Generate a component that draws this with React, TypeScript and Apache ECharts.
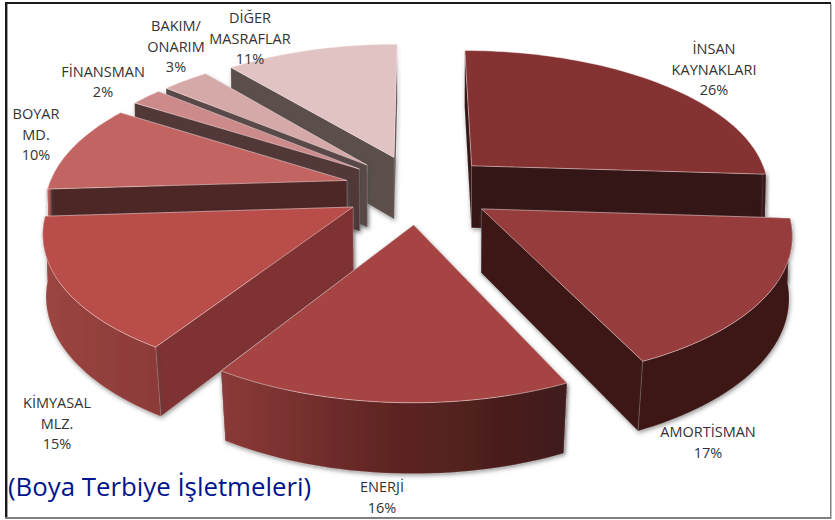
import React, { useEffect, useRef } from "react";
import * as echarts from "echarts";

const labelLines = [
  ["İNSAN", "KAYNAKLARI"],
  ["AMORTİSMAN"],
  ["ENERJİ"],
  ["KİMYASAL", "MLZ."],
  ["BOYAR", "MD."],
  ["FİNANSMAN"],
  ["BAKIM/", "ONARIM"],
  ["DİĞER", "MASRAFLAR"],
];
const values = [26, 17, 16, 15, 10, 2, 3, 11];

const topColors = ["#843232", "#963c3c", "#a64444", "#b84d4a", "#c26562", "#cc8a8a", "#d6a9a9", "#e2c3c3"];
const wallColors = ["#341414", "#3c1818", "#411c1c", "#7e3232", "#4d2826", "#533737", "#5a4848", "#5b4f4c"];
const arcLeftColors = ["#341414", "#3c1818", "#8b3a38", "#9c4540", "#c26562", "#533737", "#5a4848", "#5b4f4c"];
const arcMidColors = ["#341414", "#3c1818", "#5e2422", "#93403c", "#a05552", "#533737", "#5a4848", "#5b4f4c"];
const arcRightColors = ["#341414", "#3c1818", "#3f1b1b", "#8c3a38", "#4d2826", "#533737", "#5a4848", "#5b4f4c"];
const labelCenters = [
  [714, 69],
  [708, 442],
  [382, 497],
  [57, 423],
  [36, 134],
  [103, 81.5],
  [176, 46],
  [250, 38],
];

const CX = 418.5;
const CY = 189;
const RX = 299;
const RY = 139;
const PERSPECTIVE = 0.15;
const EXPLODE = 0.25;
const DEPTH = 63;
const RAD = Math.PI / 180;

const total = values.reduce((a, b) => a + b, 0);
const spans = (() => {
  let acc = 0;
  return values.map((v) => {
    const s = (acc / total) * 360;
    acc += v;
    return [s, (acc / total) * 360];
  });
})();
const drawOrder = values
  .map((_, i) => i)
  .sort((a, b) => {
    const ma = ((spans[a][0] + spans[a][1]) / 2) * RAD;
    const mb = ((spans[b][0] + spans[b][1]) / 2) * RAD;
    return Math.cos(mb) - Math.cos(ma);
  });

// Project a point of the exploded disc (angle/radius fraction, top or bottom face) to the screen.
function project(i: number, deg: number, r: number, bottom: boolean): number[] {
  const mid = ((spans[i][0] + spans[i][1]) / 2) * RAD;
  const a = deg * RAD;
  const X = EXPLODE * Math.sin(mid) + r * Math.sin(a);
  const Y = -(EXPLODE * Math.cos(mid) + r * Math.cos(a));
  const s = 1 / (1 - PERSPECTIVE * Y);
  let x = CX + RX * X * s;
  let y = CY + RY * Y * s;
  if (bottom) {
    x = CX + (x - CX) * (1 - 0.004 - 0.016 * Math.max(0, Y));
    y += DEPTH * (1 + 0.1 * Y);
  }
  return [x, y];
}

function arcPoints(i: number, from: number, to: number, bottom: boolean): number[][] {
  const out: number[][] = [];
  const n = Math.max(2, Math.ceil((to - from) / 1.5));
  for (let k = 0; k <= n; k++) out.push(project(i, from + ((to - from) * k) / n, 1, bottom));
  return out;
}

const WALL_SHADOW = { shadowBlur: 4, shadowColor: "rgba(70,70,70,0.55)", shadowOffsetX: 1, shadowOffsetY: 2 };
const EDGE = "rgba(255,240,240,0.55)";
const WALL_EDGE = "rgba(255,240,240,0.25)";

function renderSlice(_params: any, api: any) {
  const i = drawOrder[api.value(0)];
  const [start, end] = spans[i];
  const children: any[] = [];
  const radial = (deg: number) => ({
    type: "polygon",
    silent: true,
    shape: {
      points: [project(i, deg, 0, false), project(i, deg, 1, false), project(i, deg, 1, true), project(i, deg, 0, true)],
    },
    style: { fill: wallColors[i], stroke: WALL_EDGE, lineWidth: 0.5, ...WALL_SHADOW },
  });
  // The radial wall nearer to the viewer goes on top of the farther one.
  const startNearer = Math.cos(start * RAD) < Math.cos(end * RAD);
  children.push(radial(startNearer ? end : start));
  children.push(radial(startNearer ? start : end));
  const from = Math.max(start, 90);
  const to = Math.min(end, 270);
  if (to > from) {
    children.push({
      type: "polygon",
      silent: true,
      shape: { points: [...arcPoints(i, from, to, false), ...arcPoints(i, from, to, true).reverse()] },
      style: {
        fill: {
          type: "linear",
          x: 1,
          y: 0,
          x2: 0,
          y2: 0,
          colorStops: [
            { offset: 0, color: arcRightColors[i] },
            { offset: 0.5, color: arcMidColors[i] },
            { offset: 1, color: arcLeftColors[i] },
          ],
        },
        stroke: WALL_EDGE,
        lineWidth: 0.5,
        ...WALL_SHADOW,
      },
    });
  }
  children.push({
    type: "polygon",
    silent: true,
    shape: { points: [project(i, start, 0, false), ...arcPoints(i, start, end, false)] },
    style: { fill: topColors[i], stroke: EDGE, lineWidth: 0.8 },
  });
  return { type: "group", children };
}

const frameRects = [
  { x: 5, y: 2, width: 826, height: 2, fill: "#1a1a1a" },
  { x: 5, y: 2, width: 2, height: 517, fill: "#1a1a1a" },
  { x: 7, y: 4, width: 1, height: 514, fill: "#a0a0a0" },
  { x: 830, y: 4, width: 1.5, height: 515, fill: "#808080" },
  { x: 5, y: 517, width: 826, height: 2, fill: "#808080" },
];

export default function App() {
  const ref = useRef<HTMLDivElement>(null);
  useEffect(() => {
    const chart = echarts.init(ref.current!, undefined, { renderer: "svg" });
    chart.setOption({
      animation: false,
      backgroundColor: "#ffffff",
      series: [
        {
          type: "custom",
          coordinateSystem: "none",
          silent: true,
          clip: false,
          renderItem: renderSlice,
          data: drawOrder.map((_, k) => [k]),
        },
      ],
      graphic: [
        ...frameRects.map((r) => ({
          type: "rect",
          silent: true,
          z: 5,
          shape: { x: r.x, y: r.y, width: r.width, height: r.height },
          style: { fill: r.fill },
        })),
        ...labelLines.map((lines, i) => ({
          type: "text",
          silent: true,
          z: 10,
          x: labelCenters[i][0],
          y: labelCenters[i][1],
          style: {
            text: [...lines, `${values[i]}%`].join("\n"),
            fill: "#333333",
            font: '14.5px "Open Sans"',
            lineHeight: 20.5,
            align: "center",
            verticalAlign: "middle",
          },
        })),
        {
          type: "text",
          silent: true,
          z: 10,
          x: 8,
          y: 486,
          style: {
            text: "(Boya Terbiye İşletmeleri)",
            fill: "#00148c",
            font: '25.8px "Open Sans"',
            align: "left",
            verticalAlign: "middle",
          },
        },
      ],
    });
    return () => chart.dispose();
  }, []);
  return <div ref={ref} style={{ position: "fixed", left: 0, top: 0, width: 835, height: 520 }} />;
}
